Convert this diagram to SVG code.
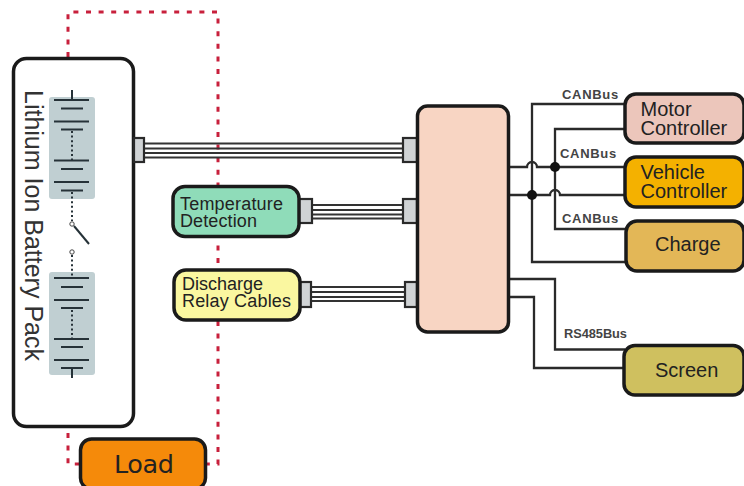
<svg xmlns="http://www.w3.org/2000/svg" width="744" height="486" viewBox="0 0 744 486">
<style>
text{font-family:"Liberation Sans",Arial,sans-serif;fill:#222}
.box{stroke:#1a1a1a;stroke-width:3.5}
.wire{fill:none;stroke:#2a2a2a;stroke-width:2.3}
.harness{fill:none;stroke:#333;stroke-width:2}
.dash{fill:none;stroke:#c8203c;stroke-width:3;stroke-dasharray:5 7.600}
.plug{fill:#d0d3d5;stroke:#2a2a2a;stroke-width:2.200}
.plate{fill:none;stroke:#263238;stroke-width:2}
.dots{fill:none;stroke:#263238;stroke-width:2;stroke-dasharray:2 2.6}
.bus{font-size:13px;font-weight:bold;letter-spacing:.7px;fill:#444}
.l20{font-size:20px}
.l18{font-size:18px}
</style>
<g id="connectors">
<path class="dash" d="M68 57V12H218V464H207"/>
<path class="dash" d="M68 433V464H80"/>
<g class="harness">
<path d="M144 143.500H403M144 148.500H403M144 153H403M144 157.500H403"/>
<path d="M312 205H403M312 210H403M312 214.500H403M312 218.500H403"/>
<path d="M311 287H405M311 292H405M311 297H405M311 301H405"/>
</g>
<g class="wire">
<path d="M625 104H532V262H625"/>
<path d="M625 129H555V229H625"/>
<path d="M508 167H527A5 5 0 0 1 537 167H625"/>
<path d="M508 195H550A5 5 0 0 1 560 195H625"/>
<path d="M508 279H555V349.500H625"/>
<path d="M508 297H534V368H625"/>
</g>
<circle cx="555" cy="167" r="5" fill="#111"/>
<circle cx="532" cy="195" r="5" fill="#111"/>
</g>
<g id="battery-pack">
<rect class="box" x="13.500" y="58.500" width="120" height="368" rx="13" fill="#fff"/>
<rect x="49" y="97" width="46" height="102" rx="3" fill="#c0cfd2"/>
<rect x="49" y="272" width="46" height="103" rx="3" fill="#c0cfd2"/>
<path class="plate" d="M72 90V100M54 100H89M61 108.500H83M54 121.500H89M61 129.500H83M54 160.500H89M61 169H83M54 182H89M61 190.500H83"/>
<path class="dots" d="M72 131V160M72 192V221"/>
<circle cx="72" cy="224" r="2.200" fill="#fff" stroke="#444" stroke-width="1"/>
<path d="M74 226L89 244" stroke="#263238" stroke-width="2"/>
<circle cx="72" cy="252" r="2.200" fill="#fff" stroke="#444" stroke-width="1"/>
<path class="dots" d="M72 255V278M72 310V339"/>
<path class="plate" d="M54 278H89M61 287H83M54 300H89M61 308H83M54 339H89M61 347H83M54 360H89M61 368H83M72 368V378"/>
<text class="pack" transform="translate(25 90) rotate(90)" font-size="25" style="fill:#333">Lithium Ion Battery Pack</text>
<rect class="plug" x="134" y="138" width="10" height="24"/>
</g>
<g id="controller">
<rect class="plug" x="403" y="138" width="14" height="24"/>
<rect class="plug" x="403" y="199" width="14" height="24"/>
<rect class="plug" x="405" y="282" width="12" height="25"/>
<rect class="box" x="417.500" y="106" width="91" height="226" rx="10" fill="#f8d5c3"/>
</g>
<g id="temperature-detection">
<rect class="plug" x="298" y="199" width="14" height="24"/>
<rect class="box" x="173" y="186.500" width="126" height="50" rx="12" fill="#8fdcb9"/>
<text class="l18" x="180" y="210" textLength="103">Temperature</text>
<text class="l18" x="180" y="227" textLength="77">Detection</text>
</g>
<g id="discharge-relay-cables">
<rect class="plug" x="300" y="282" width="11" height="25"/>
<rect class="box" x="174" y="270" width="126" height="50" rx="12" fill="#faf7a0"/>
<text class="l18" x="182" y="290" textLength="81">Discharge</text>
<text class="l18" x="182" y="307" textLength="109">Relay Cables</text>
</g>
<g id="load">
<rect class="box" x="80.500" y="439" width="125" height="50" rx="11" fill="#f58a0a"/>
<text x="114" y="472.500" font-size="25.500" style="font-family:'DejaVu Sans',sans-serif;fill:#222" textLength="60">Load</text>
</g>
<g id="motor-controller">
<rect class="box" x="625" y="94" width="119" height="49" rx="11" fill="#ecc6bb"/>
<text class="l20" x="640.500" y="116">Motor</text>
<text class="l20" x="640.500" y="135">Controller</text>
</g>
<g id="vehicle-controller">
<rect class="box" x="625" y="157" width="119" height="50" rx="11" fill="#f4b100"/>
<text class="l20" x="640.500" y="179">Vehicle</text>
<text class="l20" x="640.500" y="198">Controller</text>
</g>
<g id="charge">
<rect class="box" x="626" y="221" width="118" height="50" rx="11" fill="#e3b757"/>
<text class="l20" x="655" y="251">Charge</text>
</g>
<g id="screen">
<rect class="box" x="624" y="345.500" width="120" height="49.500" rx="11" fill="#cfc05f"/>
<text class="l20" x="655" y="377">Screen</text>
</g>
<g id="bus-labels">
<text class="bus" x="562" y="99">CANBus</text>
<text class="bus" x="560" y="158">CANBus</text>
<text class="bus" x="562" y="223">CANBus</text>
<text class="bus" x="564" y="338" style="letter-spacing:-.05px;font-size:12.800px">RS485Bus</text>
</g>
</svg>
